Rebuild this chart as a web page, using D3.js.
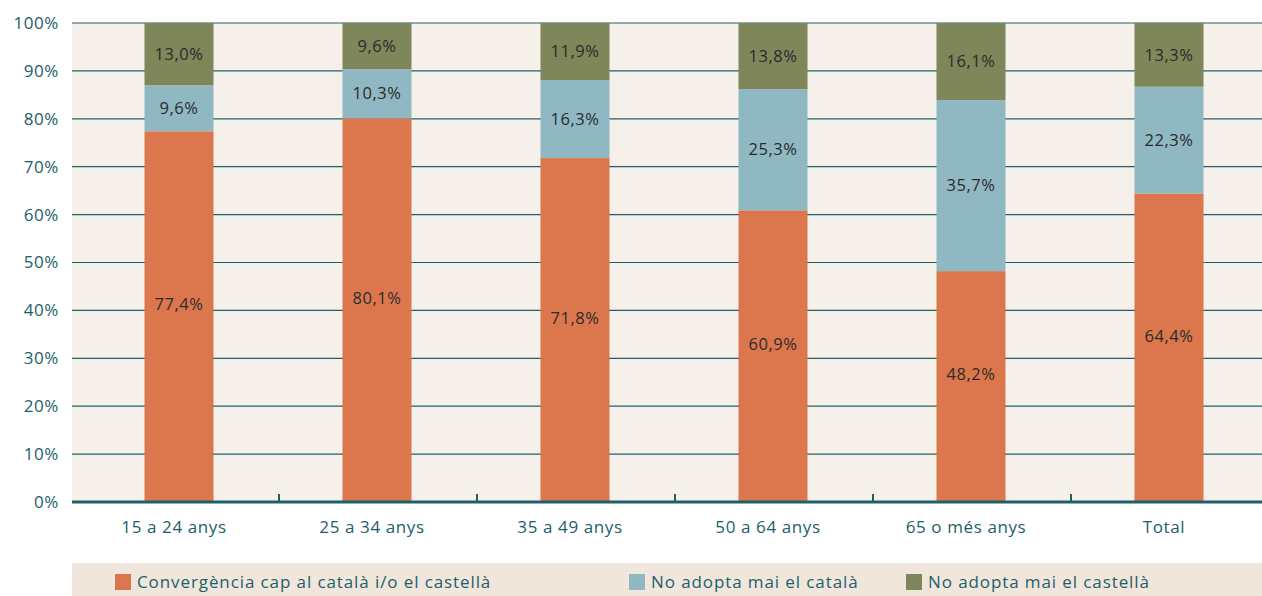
<!DOCTYPE html>
<html>
<head>
<meta charset="utf-8">
<script src="https://cdn.jsdelivr.net/npm/d3@7"></script>
<style>
  body { margin: 0; background: #fff; }
  svg { display: block; font-family: "Open Sans", sans-serif; }
</style>
</head>
<body>
<svg id="chart" width="1262" height="596"></svg>
<script>
// categories and series (%)
var categories = ["15 a 24 anys", "25 a 34 anys", "35 a 49 anys", "50 a 64 anys", "65 o més anys", "Total"];
var convergencia = [77.4, 80.1, 71.8, 60.9, 48.2, 64.4];
var noCatala = [9.6, 10.3, 16.3, 25.3, 35.7, 22.3];
var noCastella = [13.0, 9.6, 11.9, 13.8, 16.1, 13.3];
var seriesNames = ["Convergència cap al català i/o el castellà", "No adopta mai el català", "No adopta mai el castellà"];
var yTicks = [0, 10, 20, 30, 40, 50, 60, 70, 80, 90, 100];

var colors = ["#dc774d", "#8fb8c2", "#7f865a"];
var teal = "#1d6068";
// labels of the bottom segment sit a bit above its middle
var labelShift = [-12, 0, 0];

var svg = d3.select("#chart");
var plotL = 72, plotR = 1262, plotT = 23, plotB = 502;

var x = d3.scaleBand().domain(categories).range([80, 1268]).paddingInner(0).paddingOuter(0);
var y = d3.scaleLinear().domain([0, 100]).range([plotB, plotT]);
var barW = 69;

// plot background
svg.append("rect").attr("x", plotL).attr("y", plotT).attr("width", plotR - plotL).attr("height", plotB - plotT)
  .attr("fill", "#f5f0ea");

// gridlines
svg.selectAll("line.grid").data(yTicks.filter(function(d) { return d > 0; })).enter().append("line")
  .attr("x1", plotL).attr("x2", plotR)
  .attr("y1", function(d) { return y(d); }).attr("y2", function(d) { return y(d); })
  .attr("stroke", teal).attr("stroke-width", 1.2);

// y tick labels
svg.selectAll("text.ytick").data(yTicks).enter().append("text")
  .attr("x", 59).attr("y", function(d) { return y(d); })
  .attr("dy", "0.35em").attr("text-anchor", "end")
  .attr("fill", teal).attr("font-size", 17).attr("letter-spacing", 0.6)
  .text(function(d) { return d + "%"; });

// stacked data
var rows = categories.map(function(c, i) {
  return { cat: c, s0: convergencia[i], s1: noCatala[i], s2: noCastella[i] };
});
var stack = d3.stack().keys(["s0", "s1", "s2"])(rows);

stack.forEach(function(layer, li) {
  var g = svg.append("g");
  g.selectAll("rect").data(layer).enter().append("rect")
    .attr("x", function(d) { return x(d.data.cat) + x.bandwidth() / 2 - barW / 2; })
    .attr("y", function(d) { return y(d[1]); })
    .attr("width", barW)
    .attr("height", function(d) { return y(d[0]) - y(d[1]); })
    .attr("fill", colors[li]);
  g.selectAll("text").data(layer).enter().append("text")
    .attr("x", function(d) { return x(d.data.cat) + x.bandwidth() / 2; })
    .attr("y", function(d) { return (y(d[0]) + y(d[1])) / 2 + labelShift[li]; })
    .attr("dy", "0.35em").attr("text-anchor", "middle")
    .attr("fill", "#2b2b2b").attr("font-size", 16.5).attr("letter-spacing", 0.6)
    .text(function(d) { return (d[1] - d[0]).toFixed(1).replace(".", ",") + "%"; });
});

// x axis line and boundary ticks
svg.append("line").attr("x1", plotL).attr("x2", plotR).attr("y1", plotB).attr("y2", plotB)
  .attr("stroke", teal).attr("stroke-width", 3);
svg.selectAll("line.xtick").data(categories.slice(1)).enter().append("line")
  .attr("x1", function(d) { return x(d) + 1; }).attr("x2", function(d) { return x(d) + 1; })
  .attr("y1", plotB - 8).attr("y2", plotB)
  .attr("stroke", teal).attr("stroke-width", 2);

// x labels
svg.selectAll("text.xlab").data(categories).enter().append("text")
  .attr("x", function(d) { return x(d) + x.bandwidth() / 2 - 5; })
  .attr("y", 527).attr("dy", "0.35em").attr("text-anchor", "middle")
  .attr("fill", teal).attr("font-size", 17).attr("letter-spacing", 0.6)
  .text(function(d) { return d; });

// legend
svg.append("rect").attr("x", plotL).attr("y", 563).attr("width", plotR - plotL).attr("height", 33)
  .attr("fill", "#f0e6dc");
var legX = [115, 629, 906];
seriesNames.forEach(function(name, i) {
  svg.append("rect").attr("x", legX[i]).attr("y", 574).attr("width", 16).attr("height", 16)
    .attr("fill", colors[i]);
  svg.append("text").attr("x", legX[i] + 22).attr("y", 582).attr("dy", "0.35em")
    .attr("fill", teal).attr("font-size", 17).attr("letter-spacing", 0.9).text(name);
});
</script>
</body>
</html>
